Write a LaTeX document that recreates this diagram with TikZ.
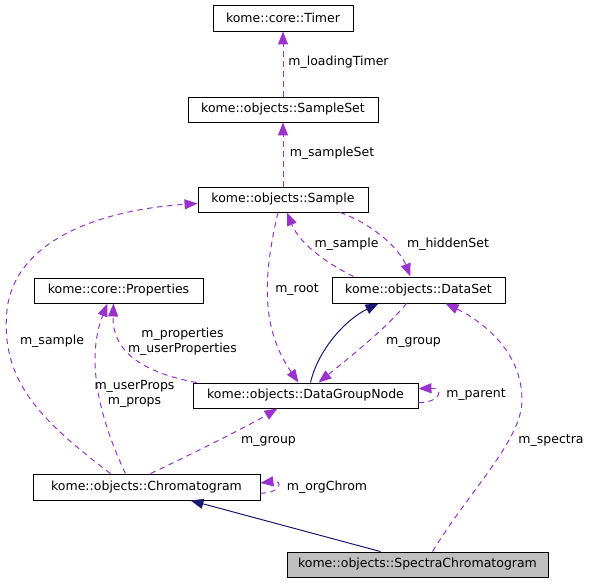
\documentclass[tikz,border=0pt]{standalone}
\usepackage{fontspec}
\setmainfont{DejaVu Sans}
\usetikzlibrary{arrows.meta,calc}
\definecolor{edgepurple}{HTML}{9A32CD}
\definecolor{inhnavy}{HTML}{191970}
\definecolor{boxgray}{HTML}{BFBFBF}
\tikzset{
  cls/.style={draw=black,line width=0.9pt,fill=white,inner sep=0pt,font=\fontsize{12.5}{15}\selectfont},
  lbl/.style={inner sep=0pt,font=\fontsize{12.5}{15}\selectfont,align=center},
  usage/.style={draw=edgepurple,line width=1pt,dash pattern=on 5.5pt off 4.5pt,-{Triangle[length=13pt,width=10pt,fill=edgepurple]}},
  inherit/.style={draw=inhnavy,line width=1pt,-{Triangle[length=13pt,width=10pt,fill=inhnavy]}}
}
\begin{document}
\begin{tikzpicture}[x=1pt,y=-1pt]
\useasboundingbox (0,0) rectangle (591,584);
% classes
\node[cls,minimum width=140pt,minimum height=26pt] (timer) at (283,18) {kome::core::Timer};
\node[cls,minimum width=190pt,minimum height=25pt] (sampleset) at (283,109.5) {kome::objects::SampleSet};
\node[cls,minimum width=170pt,minimum height=25pt] (sample) at (283,199.5) {kome::objects::Sample};
\node[cls,minimum width=169pt,minimum height=25pt] (props) at (118.5,290.5) {kome::core::Properties};
\node[cls,minimum width=173pt,minimum height=26pt] (dataset) at (418.5,290) {kome::objects::DataSet};
\node[cls,minimum width=225pt,minimum height=25pt] (dgn) at (305.5,395.5) {kome::objects::DataGroupNode};
\node[cls,minimum width=227pt,minimum height=26pt] (chrom) at (146.5,487) {kome::objects::Chromatogram};
\node[cls,fill=boxgray,minimum width=261pt,minimum height=25pt] (spectra) at (417.5,564.5) {kome::objects::SpectraChromatogram};
% edges
\draw[usage] (sampleset.north) -- (timer.south);
\draw[usage] (sample.north) -- (sampleset.south);
\draw[usage] ($(dataset.north)+(-65,0)$) .. controls (330,265) and (300,245) .. ($(sample.south)+(4,0)$);
\draw[usage] ($(sample.south)+(57,0)$) .. controls (375,225) and (400,250) .. ($(dataset.north)+(-8,0)$);
\draw[usage] ($(sample.south)+(-5,0)$) .. controls (262,280) and (262,330) .. ($(dgn.north)+(-7,0)$);
\draw[inherit] ($(dgn.north)+(5,0)$) .. controls (318,350) and (345,320) .. ($(dataset.south)+(-40,0)$);
\draw[usage] ($(dataset.south)+(-12,0)$) .. controls (385,330) and (340,365) .. ($(dgn.north)+(13,0)$);
\draw[usage] ($(dgn.east)+(0,7)$) .. controls (440,403) and (445,388) .. ($(dgn.east)+(0,-7)$);
\draw[usage] ($(dgn.north west)+(4,0)$) .. controls (140,372) and (112,350) .. ($(props.south)+(-5,0)$);
\draw[usage] ($(chrom.north)+(-21,0)$) .. controls (100,420) and (85,360) .. ($(props.south)+(-11,0)$);
\draw[usage] ($(chrom.north)+(-36,0)$) .. controls (40,420) and (0,380) .. (7,310) .. controls (15,240) and (100,210) .. ($(sample.west)+(0,4)$);
\draw[usage] ($(chrom.north)+(4,0)$) .. controls (190,455) and (250,425) .. ($(dgn.south)+(-28,0)$);
\draw[usage] ($(chrom.east)+(0,6)$) .. controls (280,494) and (284,480) .. ($(chrom.east)+(0,-4)$);
\draw[inherit] ($(spectra.north)+(-37,0)$) -- ($(chrom.south)+(44,0)$);
\draw[usage] ($(spectra.north)+(15,0)$) .. controls (470,490) and (522,440) .. (522,400) .. controls (522,350) and (480,320) .. ($(dataset.south)+(27,0)$);
% labels
\node[lbl] (l1) at (338.5,62) {m\_loadingTimer};
\node[lbl] (l2) at (332,153) {m\_sampleSet};
\node[lbl] (l3) at (346.5,244) {m\_sample};
\node[lbl] (l4) at (448,244) {m\_hiddenSet};
\node[lbl] (l5) at (297,290) {m\_root};
\node[lbl] (l6) at (182.5,341.5) {m\_properties\\m\_userProperties};
\node[lbl] (l7) at (413.5,342) {m\_group};
\node[lbl] (l8) at (476,395) {m\_parent};
\node[lbl] (l9) at (134.5,394) {m\_userProps\\m\_props};
\node[lbl] (l10) at (268.5,441) {m\_group};
\node[lbl] (l11) at (327,487) {m\_orgChrom};
\node[lbl] (l12) at (551,441) {m\_spectra};
\node[lbl] (l13) at (52,341) {m\_sample};
\end{tikzpicture}
\end{document}
